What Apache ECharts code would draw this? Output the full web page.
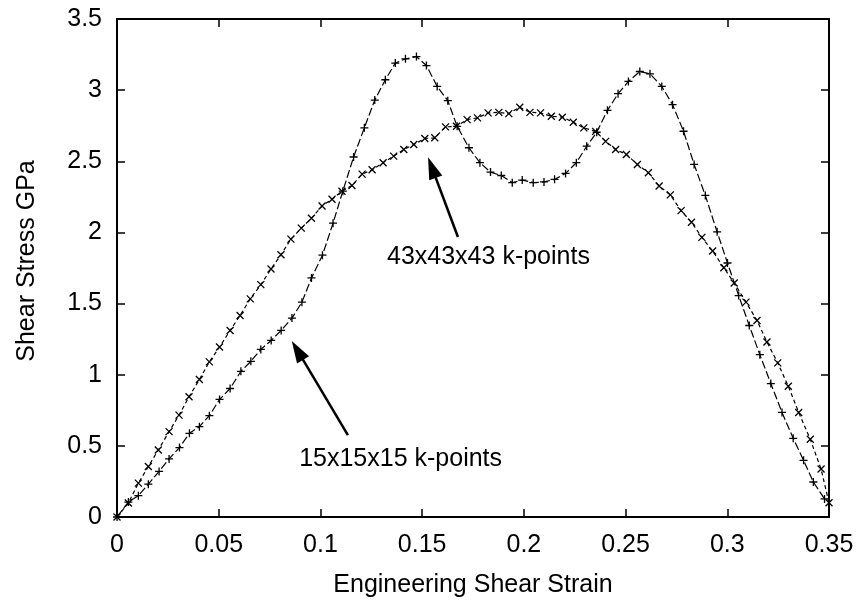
<!DOCTYPE html>
<html>
<head>
<meta charset="utf-8">
<script src="https://cdn.jsdelivr.net/npm/echarts@6/dist/echarts.min.js"></script>
<style>
html,body{margin:0;padding:0;background:#fff;}
#chart{width:857px;height:603px;}
</style>
</head>
<body>
<div id="chart"></div>
<script>
// ---- data ----
const xTickLabels = ['0','0.05','0.1','0.15','0.2','0.25','0.3','0.35'];
const yTickLabels = ['0','0.5','1','1.5','2','2.5','3','3.5'];

// 43x43x43 k-points ("x" markers, short dashes)
const strain43 = [0,0.0056,0.0105,0.0154,0.0203,0.0256,0.0305,0.0354,0.0405,0.0454,0.0504,0.0556,0.0605,0.0655,0.0707,0.0757,0.0806,0.0855,0.0906,0.0956,0.1008,0.1057,0.1106,0.1155,0.1205,0.1254,0.1308,0.1360,0.1410,0.1459,0.1513,0.1562,0.1615,0.1669,0.1721,0.1772,0.1824,0.1877,0.1926,0.1980,0.2030,0.2082,0.2135,0.2189,0.2243,0.2295,0.2353,0.2402,0.2451,0.2504,0.2558,0.2612,0.2665,0.2720,0.2773,0.2824,0.2875,0.2928,0.2983,0.3034,0.3092,0.3146,0.3195,0.3248,0.3300,0.3351,0.3408,0.3461,0.3500];
const stress43 = [0,0.098,0.238,0.355,0.471,0.600,0.716,0.845,0.966,1.090,1.195,1.311,1.416,1.533,1.633,1.743,1.843,1.953,2.030,2.100,2.186,2.233,2.290,2.330,2.410,2.440,2.490,2.536,2.583,2.618,2.660,2.665,2.742,2.746,2.793,2.805,2.840,2.844,2.835,2.880,2.844,2.840,2.816,2.810,2.774,2.735,2.710,2.640,2.583,2.548,2.478,2.420,2.326,2.264,2.153,2.072,1.965,1.869,1.752,1.645,1.510,1.381,1.230,1.083,0.919,0.735,0.546,0.337,0.100];

// 15x15x15 k-points ("+" markers, long dashes)
const strain15 = [0,0.0056,0.0105,0.0154,0.0207,0.0256,0.0307,0.0356,0.0405,0.0454,0.0504,0.0556,0.0609,0.0658,0.0707,0.0758,0.0807,0.0860,0.0909,0.0956,0.1010,0.1062,0.1110,0.1163,0.1216,0.1267,0.1319,0.1368,0.1418,0.1472,0.1521,0.1574,0.1626,0.1672,0.1730,0.1784,0.1836,0.1889,0.1943,0.1992,0.2046,0.2099,0.2151,0.2205,0.2258,0.2309,0.2358,0.2411,0.2463,0.2514,0.2570,0.2620,0.2678,0.2731,0.2785,0.2837,0.2892,0.2950,0.3001,0.3056,0.3108,0.3160,0.3214,0.3269,0.3324,0.3375,0.3423,0.3478];
const stress15 = [0,0.105,0.150,0.231,0.320,0.408,0.488,0.588,0.635,0.712,0.826,0.903,1.024,1.094,1.178,1.241,1.311,1.398,1.510,1.680,1.840,2.065,2.290,2.530,2.735,2.930,3.073,3.190,3.220,3.236,3.173,3.026,2.926,2.746,2.595,2.490,2.424,2.400,2.350,2.368,2.350,2.355,2.373,2.415,2.490,2.606,2.704,2.858,2.975,3.061,3.131,3.115,3.026,2.898,2.711,2.478,2.260,2.004,1.785,1.556,1.346,1.141,0.938,0.735,0.553,0.398,0.246,0.127];

// annotations (data coordinates)
const label43 = {text:'43x43x43 k-points', at:[0.1826,1.830], arrowFrom:[0.1676,1.968], arrowTo:[0.1548,2.456]};
const label15 = {text:'15x15x15 k-points', at:[0.1394,0.410], arrowFrom:[0.1135,0.575], arrowTo:[0.0887,1.171]};

// ---- chart ----
const FONT = 'Liberation Sans, Arial, Helvetica, sans-serif';
const zip = (a,b) => a.map((v,i)=>[v,b[i]]);
const PLUS = 'path://M5,0L5,10M0,5L10,5';
const CROSS = 'path://M0,0L10,10M0,10L10,0';
const HEAD = 'path://M7,0L14,22L0,22Z';

function arrowItem(l){
  return [
    {coord:l.arrowFrom, symbol:'none'},
    {coord:l.arrowTo, symbol:HEAD, symbolSize:[14,22]}
  ];
}
function textItem(l){
  return {
    coord:l.at, symbol:'circle', symbolSize:1,
    itemStyle:{color:'rgba(0,0,0,0)'},
    label:{show:true, position:'inside', formatter:l.text, color:'#000', fontSize:25, fontFamily:FONT}
  };
}

const axisCommon = {
  type:'value', min:0,
  splitLine:{show:false},
  axisLine:{show:true, onZero:false, lineStyle:{color:'#000', width:2}},
  axisTick:{show:true, inside:true, length:8, lineStyle:{color:'#000', width:1.5}}
};

const chart = echarts.init(document.getElementById('chart'), null, {renderer:'canvas'});
chart.setOption({
  animation:false,
  backgroundColor:'#fff',
  grid:{left:117, right:28, top:19, bottom:84},
  xAxis:[
    Object.assign({}, axisCommon, {
      max:0.35, interval:0.05, position:'bottom',
      name:'Engineering Shear Strain', nameLocation:'middle', nameGap:56,
      nameTextStyle:{color:'#000', fontSize:25, fontFamily:FONT},
      axisLabel:{color:'#000', fontSize:25, fontFamily:FONT, margin:16,
        formatter:(v,i)=>xTickLabels[i]}
    }),
    Object.assign({}, axisCommon, {
      max:0.35, interval:0.05, position:'top', axisLabel:{show:false}
    })
  ],
  yAxis:[
    Object.assign({}, axisCommon, {
      max:3.5, interval:0.5, position:'left',
      name:'Shear Stress GPa', nameLocation:'middle', nameGap:77,
      nameTextStyle:{color:'#000', fontSize:25, fontFamily:FONT, padding:[0,0,0,14]},
      axisLabel:{color:'#000', fontSize:25, fontFamily:FONT, margin:15,
        formatter:(v,i)=>yTickLabels[i]}
    }),
    Object.assign({}, axisCommon, {
      max:3.5, interval:0.5, position:'right', axisLabel:{show:false}
    })
  ],
  series:[
    {
      name:'15x15x15 k-points', type:'line', data:zip(strain15,stress15),
      symbol:PLUS, symbolSize:8, showSymbol:true, showAllSymbol:true,
      lineStyle:{color:'#000', width:1.2, type:[8,3]},
      itemStyle:{color:'#000', borderColor:'#000', borderWidth:1.3},
      emphasis:{disabled:true}, silent:true, z:3,
      markLine:{
        silent:true, animation:false,
        label:{show:false},
        lineStyle:{color:'#000', width:2.5, type:'solid'},
        data:[arrowItem(label43), arrowItem(label15)]
      },
      markPoint:{
        silent:true, animation:false,
        data:[textItem(label43), textItem(label15)]
      }
    },
    {
      name:'43x43x43 k-points', type:'line', data:zip(strain43,stress43),
      symbol:CROSS, symbolSize:7, showSymbol:true, showAllSymbol:true,
      lineStyle:{color:'#000', width:1.2, type:[4,3]},
      itemStyle:{color:'#000', borderColor:'#000', borderWidth:1.3},
      emphasis:{disabled:true}, silent:true, z:3
    }
  ]
});
</script>
</body>
</html>
